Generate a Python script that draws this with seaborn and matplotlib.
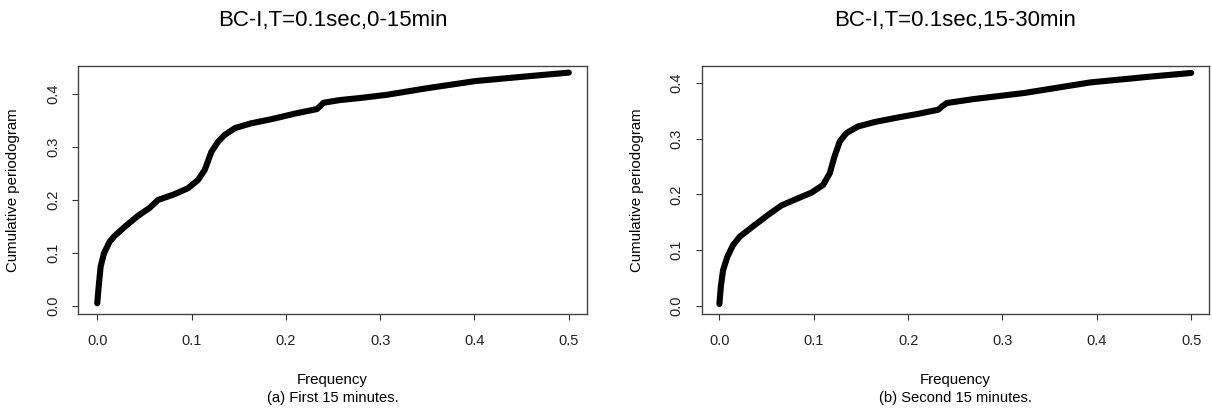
import matplotlib
matplotlib.use("Agg")
import matplotlib.pyplot as plt
import seaborn as sns
import pandas as pd

# Panel (a): first 15 minutes
freq_a = [0.0, 0.0015, 0.0036, 0.0071, 0.0131, 0.0184, 0.029, 0.0432, 0.0555,
          0.0644, 0.082, 0.096, 0.107, 0.114, 0.121, 0.128, 0.135, 0.146, 0.163,
          0.185, 0.211, 0.233, 0.236, 0.240, 0.257, 0.279, 0.307, 0.348, 0.401,
          0.450, 0.500]
cum_a = [0.0045, 0.036, 0.074, 0.099, 0.121, 0.132, 0.149, 0.170, 0.185,
         0.200, 0.211, 0.222, 0.238, 0.257, 0.291, 0.310, 0.323, 0.336, 0.345,
         0.353, 0.364, 0.372, 0.377, 0.384, 0.389, 0.393, 0.399, 0.411, 0.425,
         0.433, 0.441]

# Panel (b): second 15 minutes
freq_b = [0.0, 0.0015, 0.0039, 0.0085, 0.0145, 0.0216, 0.0375, 0.0516, 0.0657,
          0.0834, 0.0975, 0.110, 0.117, 0.122, 0.1276, 0.1346, 0.147, 0.165,
          0.189, 0.209, 0.232, 0.236, 0.241, 0.269, 0.323, 0.393, 0.454, 0.500]
cum_b = [0.003, 0.034, 0.064, 0.088, 0.109, 0.124, 0.145, 0.163, 0.180,
         0.193, 0.203, 0.217, 0.238, 0.268, 0.295, 0.310, 0.322, 0.330,
         0.338, 0.344, 0.352, 0.358, 0.364, 0.371, 0.382, 0.401, 0.411, 0.418]

titles = ["BC-I,T=0.1sec,0-15min", "BC-I,T=0.1sec,15-30min"]
subtitles = ["(a) First 15 minutes.", "(b) Second 15 minutes."]
xticks = [0.0, 0.1, 0.2, 0.3, 0.4, 0.5]
xticklabels = ["0.0", "0.1", "0.2", "0.3", "0.4", "0.5"]
yticks = [0.0, 0.1, 0.2, 0.3, 0.4]
yticklabels = ["0.0", "0.1", "0.2", "0.3", "0.4"]

sns.set_style("ticks")
plt.rcParams["font.family"] = ["Liberation Sans", "DejaVu Sans"]
plt.rcParams["text.color"] = "black"
plt.rcParams["axes.labelcolor"] = "black"

fig = plt.figure(figsize=(12.12, 4.11), dpi=100)
positions = [[0.0646, 0.2348, 0.4195, 0.6046], [0.5790, 0.2348, 0.4186, 0.6046]]
xlims = [(-0.0201, 0.519), (-0.0187, 0.519)]
ylims = [(-0.0167, 0.4535), (-0.0158, 0.4305)]
ylab_x = [-0.1284, -0.1275]
data = [(freq_a, cum_a), (freq_b, cum_b)]

for i in range(2):
    ax = fig.add_axes(positions[i])
    df = pd.DataFrame({"Frequency": data[i][0], "Cum": data[i][1]})
    sns.lineplot(data=df, x="Frequency", y="Cum", ax=ax, color="black",
                 linewidth=4.4, solid_capstyle="round", solid_joinstyle="round",
                 sort=False)
    ax.set_xlim(*xlims[i])
    ax.set_ylim(*ylims[i])
    ax.set_xticks(xticks)
    ax.set_xticklabels(xticklabels, fontsize=10.5, color="#222222")
    ax.set_yticks(yticks)
    ax.set_yticklabels(yticklabels, fontsize=10.5, rotation=90, va="center",
                       color="#222222")
    ax.tick_params(axis="both", direction="out", length=4.1, width=0.8,
                   color="#333333")
    ax.tick_params(axis="x", pad=10)
    ax.tick_params(axis="y", pad=9)
    for s in ax.spines.values():
        s.set_visible(True)
        s.set_color("#444444")
        s.set_linewidth(1.0)
    ax.set_xlabel("Frequency", fontsize=10.8, va="center")
    ax.xaxis.set_label_coords(0.5, (314.5 - 380) / 248.5)
    ax.set_ylabel("Cumulative periodogram", fontsize=10.8, va="center")
    ax.yaxis.set_label_coords(ylab_x[i], 0.5)
    ax.set_title(titles[i], fontsize=16, pad=29)
    ax.text(0.5, (314.5 - 398) / 248.5, subtitles[i], transform=ax.transAxes,
            ha="center", va="center", fontsize=10.6)

fig.savefig("out.png", dpi=100)
